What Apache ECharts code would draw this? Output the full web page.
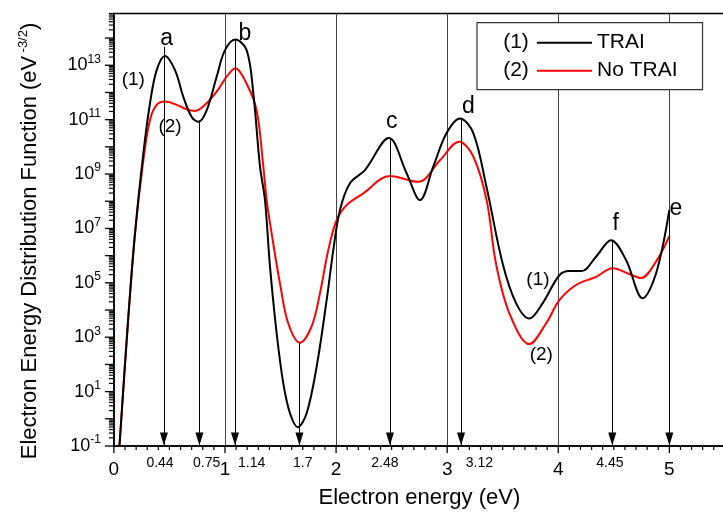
<!DOCTYPE html>
<html>
<head>
<meta charset="utf-8">
<script src="https://cdn.jsdelivr.net/npm/echarts@6/dist/echarts.min.js"></script>
<style>
  html, body { margin: 0; padding: 0; background: #fff; }
  #chart { width: 723px; height: 518px; }
</style>
</head>
<body>
<div id="chart"></div>
<script>
// curve (1) TRAI
const energyTRAI = [0.05, 0.13, 0.19, 0.265, 0.325, 0.385, 0.46, 0.55, 0.625, 0.70, 0.76, 0.835, 0.925, 1.0,
  1.093, 1.195, 1.255, 1.315, 1.36, 1.405, 1.465, 1.525, 1.585, 1.655, 1.735, 1.825, 1.915, 1.975, 2.035,
  2.125, 2.26, 2.475, 2.635, 2.755, 2.875, 2.995, 3.115, 3.235, 3.355, 3.50, 3.62, 3.74, 3.86, 4.01, 4.10,
  4.21, 4.34, 4.475, 4.61, 4.76, 4.88, 5.0]
const eedfTRAI = [0.1, 5.6e3, 6.6e6, 5.8e9, 4.0e11, 6.6e12, 2.2e13, 6.6e12, 6.9e11, 1.26e11, 8.3e10, 2.2e11, 3.8e12, 3.6e13,
  8.9e13, 3.6e13, 9.3e11, 1.9e9, 1.1e8, 4.0e5, 1.4e3, 20, 1.6, 0.49, 1.6, 83, 2.3e4, 1.6e6, 4.8e7,
  4.6e8, 1.4e9, 2.1e10, 1.07e9, 1.1e8, 1.9e9, 3.2e10, 1.1e11, 3.2e10, 3.2e8, 5.0e5, 1.8e4, 4.9e3, 1.8e4, 1.9e5, 2.7e5,
  2.7e5, 9.1e5, 3.7e6, 6.9e5, 2.7e4, 2.2e5, 4.8e7]
// curve (2) No TRAI
const energyNoTRAI = [0.05, 0.13, 0.19, 0.265, 0.325, 0.385, 0.46, 0.565, 0.655, 0.73, 0.82, 0.925, 1.015,
  1.093, 1.195, 1.285, 1.345, 1.375, 1.42, 1.495, 1.57, 1.675, 1.78, 1.855, 1.93, 2.005, 2.095, 2.245,
  2.485, 2.74, 2.935, 3.107, 3.235, 3.355, 3.44, 3.56, 3.74, 3.89, 4.01, 4.16, 4.34, 4.49, 4.64, 4.745, 4.88, 5.0]
const eedfNoTRAI = [0.1, 5.6e3, 6.6e6, 3.2e9, 9.8e10, 3.5e11, 4.6e11, 3.5e11, 2.4e11, 2.1e11, 3.5e11, 1.07e12, 3.8e12,
  7.8e12, 2.1e12, 2.2e11, 1.9e9, 1.1e8, 6.6e6, 9.5e4, 3.2e3, 630, 2.5e3, 4.1e4, 1.6e6, 2.0e7, 7.2e7, 1.95e8,
  8.5e8, 5.2e8, 3.2e9, 1.55e10, 4.4e9, 1.1e8, 5.0e5, 7.6e3, 560, 3.2e3, 2.3e4, 8.3e4, 1.66e5, 3.4e5, 2.1e5, 1.5e5, 6.0e5, 5.2e6]

// arrows dropped from the peaks / dips to the energy axis
const arrowE = [0.45, 0.77, 1.09, 1.67, 2.485, 3.125, 4.486, 5.0]
const arrowTop = [4.8e13, 8.3e10, 9e13, 630, 2.1e10, 1.1e11, 3.7e6, 4.8e7]
// the small numbers under the arrows
const arrowLabelE = [0.415, 0.835, 1.24, 1.70, 2.44, 3.29, 4.465]
const arrowLabelText = ['0.44', '0.75', '1.14', '1.7', '2.48', '3.12', '4.45']

// letters and curve numbers written on the plot
const noteText = ['a', 'b', 'c', 'd', 'e', 'f', '(1)', '(2)', '(1)', '(2)']
const noteE = [0.475, 1.18, 2.50, 3.19, 5.06, 4.517, 0.175, 0.505, 3.817, 3.847]
const noteV = [9.8e13, 1.5e14, 8.3e10, 3e11, 5.5e7, 1.55e7, 2.9e12, 5.5e10, 1.26e5, 224]

const xMin = 0
const xMax = 5.5
const yMin = 0.1
const yMax = 8e14

const FONT = '"Liberation Sans", Arial, sans-serif'

// tick positions: every 0.1 eV, and 1..9 x 10^n (in log10 units)
const xTickE = []
for (let i = 0; i <= 55; i++) xTickE.push(i / 10)
const yTickLog = []
for (let n = -1; n <= 14; n++) {
  for (let k = 1; k <= 9; k++) {
    const v = n + Math.log10(k)
    if (v <= Math.log10(yMax)) yTickLog.push(v)
  }
}
const isWhole = v => Math.abs(v - Math.round(v)) < 1e-6

const chart = echarts.init(document.getElementById('chart'), null, { renderer: 'canvas' })

const option = {
  animation: false,
  backgroundColor: '#fff',
  textStyle: { fontFamily: FONT },
  grid: {
    left: 113.9,
    top: 13.5,
    width: 611,
    height: 432.5,
    outerBoundsMode: 'none',
    show: true,
    borderColor: '#000',
    borderWidth: 1.5,
    backgroundColor: 'transparent'
  },
  legend: {
    data: [
      { name: 'TRAI', icon: 'rect' },
      { name: 'No TRAI', icon: 'rect' }
    ],
    orient: 'vertical',
    left: 477,
    top: 22.7,
    itemWidth: 55,
    itemHeight: 2,
    itemGap: 6,
    padding: [9, 25, 8, 60],
    backgroundColor: '#fff',
    borderColor: '#333',
    borderWidth: 1.2,
    textStyle: { fontSize: 21, lineHeight: 22, color: '#000', fontFamily: FONT },
    selectedMode: false
  },
  xAxis: [{
    type: 'value',
    min: xMin,
    max: xMax,
    interval: 1,
    name: 'Electron energy (eV)',
    nameLocation: 'middle',
    nameGap: 41,
    nameTextStyle: { fontSize: 22, color: '#000', fontFamily: FONT },
    axisLine: { show: true, onZero: false, lineStyle: { color: '#000', width: 1.5 } },
    axisTick: { show: false },
    axisLabel: {
      fontSize: 19,
      color: '#000',
      margin: 14,
      formatter: v => (isWhole(v) && v <= 5 ? String(Math.round(v)) : '')
    },
    splitLine: { show: true, lineStyle: { color: '#444', width: 1 } }
  }, {
    // small energy values under the arrows
    type: 'value',
    min: xMin,
    max: xMax,
    position: 'bottom',
    axisLine: { show: false, onZero: false },
    axisTick: { show: false },
    splitLine: { show: false },
    axisLabel: {
      customValues: arrowLabelE,
      fontSize: 14,
      color: '#000',
      margin: 10,
      formatter: v => {
        const i = arrowLabelE.findIndex(p => Math.abs(p - v) < 1e-6)
        return i >= 0 ? arrowLabelText[i] : ''
      }
    }
  }, {
    // outward tick marks of the energy axis, drawn as label boxes
    type: 'value',
    min: xMin,
    max: xMax,
    position: 'bottom',
    axisLine: { show: false, onZero: false },
    axisTick: { show: false },
    splitLine: { show: false },
    axisLabel: {
      customValues: xTickE,
      margin: 0,
      formatter: v => (isWhole(v) ? '{M| }' : '{m| }'),
      rich: {
        M: { width: 1.3, height: 7, lineHeight: 7, fontSize: 1, backgroundColor: '#000' },
        m: { width: 1.2, height: 4, lineHeight: 4, fontSize: 1, backgroundColor: '#000' }
      }
    }
  }],
  yAxis: [{
    type: 'log',
    logBase: 10,
    min: yMin,
    max: yMax,
    interval: 1,
    axisLine: { show: true, onZero: false, lineStyle: { color: '#000', width: 1.5 } },
    axisTick: { show: false },
    splitLine: { show: false },
    axisLabel: {
      color: '#000',
      margin: 13,
      formatter: v => {
        const l = Math.log10(v)
        const e = Math.round(l)
        if (Math.abs(l - e) > 1e-6 || e % 2 === 0) return ''
        return '{b|10}{s|' + e + '}'
      },
      rich: {
        b: { fontSize: 18, color: '#000', fontFamily: FONT },
        s: { fontSize: 12, color: '#000', fontFamily: FONT, padding: [0, 0, 12, 0] }
      }
    }
  }, {
    // outward tick marks of the log axis, in log10 units, drawn as label boxes
    type: 'value',
    position: 'left',
    min: -1,
    max: Math.log10(yMax),
    axisLine: { show: false, onZero: false },
    axisTick: { show: false },
    splitLine: { show: false },
    axisLabel: {
      customValues: yTickLog,
      margin: 0,
      formatter: v => (isWhole(v) ? '{M| }' : '{m| }'),
      rich: {
        M: { width: 9, height: 1.3, lineHeight: 1.3, fontSize: 1, backgroundColor: '#000' },
        m: { width: 5, height: 1.2, lineHeight: 1.2, fontSize: 1, backgroundColor: '#000' }
      }
    }
  }],
  graphic: [{
    type: 'text',
    x: 30,
    y: 241,
    rotation: Math.PI / 2,
    style: {
      text: '{t|Electron Energy Distribution Function (eV} {s|-3/2}{t|)}',
      align: 'center',
      verticalAlign: 'middle',
      rich: {
        t: { fontSize: 22, fill: '#000', fontFamily: FONT },
        s: { fontSize: 13, fill: '#000', fontFamily: FONT, padding: [0, 0, 14, 0] }
      }
    }
  }, {
    type: 'text', x: 516, y: 42.7, z: 100,
    style: { text: '(1)', fontSize: 21, fontFamily: FONT, fill: '#000', align: 'center', verticalAlign: 'middle' }
  }, {
    type: 'text', x: 516, y: 70.7, z: 100,
    style: { text: '(2)', fontSize: 21, fontFamily: FONT, fill: '#000', align: 'center', verticalAlign: 'middle' }
  }],
  series: [
    {
      name: 'No TRAI',
      type: 'line',
      z: 3,
      smooth: 0.35,
      showSymbol: false,
      symbol: 'none',
      lineStyle: { color: '#ff0000', width: 2 },
      itemStyle: { color: '#ff0000' },
      data: energyNoTRAI.map((e, i) => [e, eedfNoTRAI[i]])
    },
    {
      name: 'TRAI',
      type: 'line',
      z: 4,
      smooth: 0.35,
      showSymbol: false,
      symbol: 'none',
      lineStyle: { color: '#000', width: 2 },
      itemStyle: { color: '#000' },
      data: energyTRAI.map((e, i) => [e, eedfTRAI[i]]),
      markLine: {
        silent: true,
        animation: false,
        symbol: ['none', 'triangle'],
        label: { show: false },
        lineStyle: { color: '#000', width: 1, type: 'solid' },
        data: arrowE.map((e, i) => [
          { coord: [e, arrowTop[i]], symbol: 'none' },
          { coord: [e, yMin], symbol: 'triangle', symbolSize: [8, 13], symbolOffset: [0, 7] }
        ])
      }
    },
    {
      name: 'notes',
      type: 'scatter',
      z: 5,
      clip: false,
      symbolSize: 0,
      silent: true,
      itemStyle: { opacity: 1 },
      label: {
        show: true,
        position: 'inside',
        color: '#000',
        opacity: 1,
        fontFamily: FONT,
        formatter: p => p.name
      },
      data: noteText.map((t, i) => ({
        name: t,
        value: [noteE[i], noteV[i]],
        label: { fontSize: t.length === 1 ? 23 : 19 }
      }))
    }
  ]
}

chart.setOption(option)
</script>
</body>
</html>
